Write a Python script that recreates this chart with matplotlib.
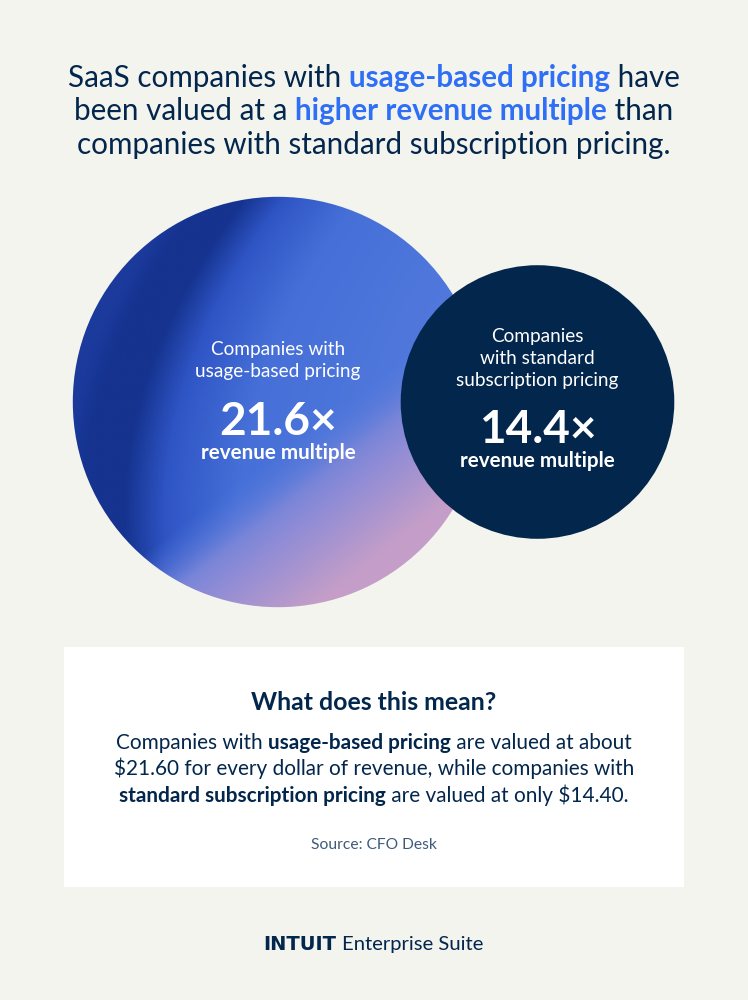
import numpy as np
import matplotlib
matplotlib.use("Agg")
import matplotlib.pyplot as plt
from matplotlib.colors import LinearSegmentedColormap
from matplotlib.patches import Circle, Rectangle

NAVY = "#03264c"
BLUE = "#2f6ff5"
BG = "#f4f4ef"
FONT = "Lato"

# data
multiples = [21.6, 14.4]
centers_x = [278, 537.5]
circle_y = 402
px_per_unit = 9.5  # circle radius follows the multiple

title_lines = [
    [("SaaS companies with ", NAVY, "normal"), ("usage-based pricing", BLUE, "bold"), (" have", NAVY, "normal")],
    [("been valued at a ", NAVY, "normal"), ("higher revenue multiple", BLUE, "bold"), (" than", NAVY, "normal")],
    [("companies with standard subscription pricing.", NAVY, "normal")],
]
body_lines = [
    [("Companies with ", NAVY, "normal"), ("usage-based pricing", NAVY, "bold"), (" are valued at about", NAVY, "normal")],
    [("$21.60 for every dollar of revenue, while companies with", NAVY, "normal")],
    [("standard subscription pricing", NAVY, "bold"), (" are valued at only $14.40.", NAVY, "normal")],
]

fig = plt.figure(figsize=(7.48, 10), dpi=100, facecolor=BG)
ax = fig.add_axes([0, 0, 1, 1])
ax.axis("off")
renderer = fig.canvas.get_renderer()


def px(size):
    return size * 72 / 100


def run_width(s, size, weight):
    # bars keep leading and trailing spaces in the measurement
    a = ax.text(0, 0, "|" + s + "|", fontsize=px(size), fontweight=weight, family=FONT)
    b = ax.text(0, 0, "||", fontsize=px(size), fontweight=weight, family=FONT)
    w = a.get_window_extent(renderer).width - b.get_window_extent(renderer).width
    a.remove()
    b.remove()
    return w


def draw_line(runs, xc, y, size):
    widths = [run_width(r[0], size, r[2]) for r in runs]
    x = xc - sum(widths) / 2
    for (s, color, weight), w in zip(runs, widths):
        ax.text(x, y, s, fontsize=px(size), color=color, fontweight=weight, family=FONT,
                ha="left", va="baseline")
        x += w


def center_text(s, xc, y, size, color="white", weight="normal", family=FONT):
    ax.text(xc, y, s, fontsize=px(size), color=color, fontweight=weight, family=family,
            ha="center", va="baseline")


for line, y in zip(title_lines, [87, 120, 154]):
    draw_line(line, 374, y, 29.6)

# big circle with the blue to pink gradient
r_big = multiples[0] * px_per_unit
x0, x1 = centers_x[0] - r_big - 2, centers_x[0] + r_big + 2
y0, y1 = circle_y - r_big - 2, circle_y + r_big + 2
xx, yy = np.meshgrid(np.linspace(x0, x1, 500), np.linspace(y0, y1, 500))

# the dark band bends a little, so the blue ramp runs along a curved coordinate
s = xx + 0.3 * (yy - 390) - 0.0012 * (yy - 390) ** 2
blues = LinearSegmentedColormap.from_list(
    "blues", [(0, "#1b3a9c"), (0.07, "#15338f"), (0.2, "#15338f"), (0.33, "#2f55c5"),
              (0.56, "#4670d8"), (1, "#5078dc")])
rgb = blues(np.clip((s - 78) / 320, 0, 1))[..., :3]
pinks = LinearSegmentedColormap.from_list("pinks", ["#5078dc", "#8f8cd6", "#c49ec8"])
p = np.clip((0.61 * xx + 0.79 * yy - 525) / 145, 0, 1)
m = np.clip(p * 3, 0, 1)[..., None]
rgb = rgb * (1 - m) + pinks(p)[..., :3] * m

big = Circle((centers_x[0], circle_y), r_big, facecolor="none", edgecolor="none")
ax.add_patch(big)
im = ax.imshow(rgb, extent=(x0, x1, y1, y0), aspect="auto", zorder=1, interpolation="bilinear")
im.set_clip_path(big)

ax.add_patch(Circle((centers_x[1], circle_y), multiples[1] * px_per_unit, color=NAVY, zorder=2, lw=0))

center_text("Companies with", centers_x[0], 355, 19)
center_text("usage-based pricing", centers_x[0], 377, 19)
center_text(f"{multiples[0]}×", centers_x[0], 435, 46, weight="bold")
center_text("revenue multiple", centers_x[0], 459, 20.7, weight="bold")

center_text("Companies", centers_x[1], 342, 19)
center_text("with standard", centers_x[1], 364, 19)
center_text("subscription pricing", centers_x[1], 386, 19)
center_text(f"{multiples[1]}×", centers_x[1], 443, 46, weight="bold")
center_text("revenue multiple", centers_x[1], 467, 20.7, weight="bold")

# explanation box
ax.add_patch(Rectangle((64, 647), 620, 240, color="white", lw=0, zorder=0))
center_text("What does this mean?", 374, 710, 24.9, color=NAVY, weight="bold")
for line, y in zip(body_lines, [749, 775, 802]):
    draw_line(line, 374, y, 20.8)
center_text("Source: CFO Desk", 374, 849, 15.6, color="#3f5a78")

# logo line
ax.text(263, 950, "INTUIT", fontsize=px(19.5), color=NAVY, fontweight="bold",
        family="DejaVu Sans", ha="left", va="baseline")
ax.text(342, 950, "Enterprise Suite", fontsize=px(20.3), color=NAVY, family=FONT,
        ha="left", va="baseline")

ax.set_xlim(0, 748)
ax.set_ylim(1000, 0)
fig.savefig("out.png", dpi=100, facecolor=BG)
